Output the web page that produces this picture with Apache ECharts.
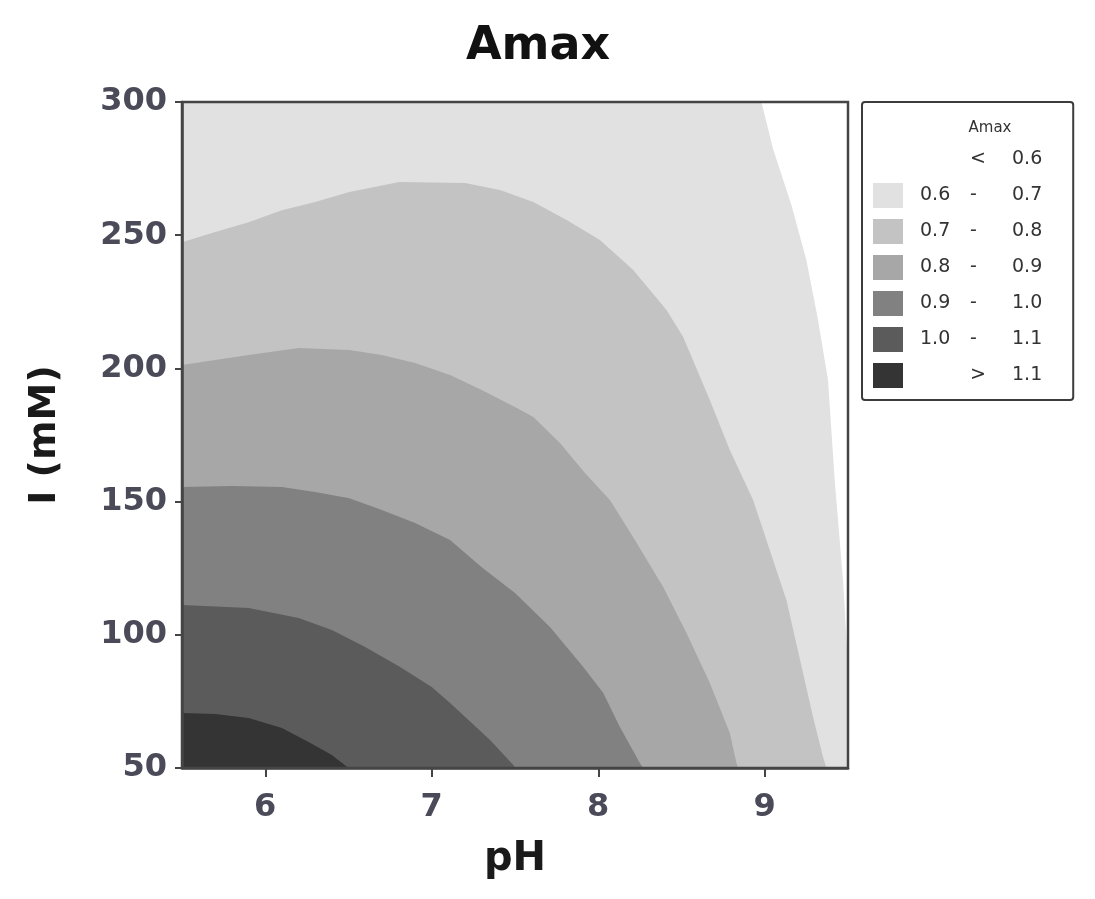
<!DOCTYPE html>
<html>
<head>
<meta charset="utf-8">
<script src="https://cdn.jsdelivr.net/npm/echarts@6/dist/echarts.min.js"></script>
<style>
html,body{margin:0;padding:0;background:#fff;}
#chart{width:1095px;height:899px;}
</style>
</head>
<body>
<div id="chart"></div>
<script>
// Amax contour plot, pH vs I (mM)

var PH_MIN = 5.5, PH_MAX = 9.5;
var I_MIN = 50, I_MAX = 300;
var PH_TICKS = [6, 7, 8, 9];

// legend bands
var BAND_LOW  = [' ', '0.6', '0.7', '0.8', '0.9', '1.0', ' '];
var BAND_SIGN = ['<', '-', '-', '-', '-', '-', '>'];
var BAND_HIGH = ['0.6', '0.7', '0.8', '0.9', '1.0', '1.1', '1.1'];
var BAND_COLORS = ['#ffffff', '#e1e1e1', '#c3c3c3', '#a7a7a7', '#818181', '#5b5b5b', '#343434'];

// contour lines, [pH, I]
var C06 = [[8.98,300],[9.05,282.4],[9.16,261.3],[9.25,240.7],[9.32,218.2],[9.38,195.6],[9.42,158.1],[9.47,120.6],[9.5,88]];
var C07 = [[5.5,247.4],[5.7,251.2],[5.9,254.9],[6.1,259.4],[6.3,262.5],[6.505,266.2],[6.806,270],[7.2,269.6],[7.41,267],
           [7.61,262.5],[7.81,255.7],[8.01,248.2],[8.21,236.9],[8.41,221.9],[8.51,211.8],[8.67,188.1],[8.79,169.4],
           [8.93,150.6],[9.03,131.8],[9.13,113.1],[9.23,85.7],[9.29,69.1],[9.35,54.1],[9.37,50]];
var C08 = [[5.5,201.3],[5.7,203.2],[5.9,205],[6.2,207.7],[6.505,206.9],[6.7,205],[6.9,202],[7.11,197.5],[7.3,191.9],
           [7.5,185.5],[7.61,181.8],[7.77,172],[7.92,160.7],[8.07,150.6],[8.22,135.6],[8.39,117.9],[8.53,100.7],
           [8.67,81.9],[8.79,63.1],[8.83,51.9],[8.84,50]];
var C09 = [[5.5,155.5],[5.8,155.9],[6.1,155.5],[6.3,153.6],[6.505,151.3],[6.7,146.8],[6.9,142],[7.11,135.6],[7.3,125.4],
           [7.5,115.7],[7.71,102.9],[7.91,87.9],[8.03,78.2],[8.13,65.4],[8.25,51.9],[8.27,50]];
var C10 = [[5.5,111.2],[5.9,110.1],[6.2,106.3],[6.4,101.8],[6.6,95.4],[6.81,87.9],[7.0,80.4],[7.11,74.4],[7.24,66.9],
           [7.35,60.5],[7.49,51.1],[7.5,50]];
var C11 = [[5.5,70.6],[5.7,70.3],[5.9,68.8],[6.1,65],[6.26,59.8],[6.4,54.9],[6.5,50]];

var BAND_NAMES = BAND_LOW.map(function(l, i){ return (l.trim() ? l + ' ' : '') + BAND_SIGN[i] + ' ' + BAND_HIGH[i]; });

// each band painted as the region left/below its lower contour
var POLYS = [
  [[PH_MIN,I_MIN],[PH_MAX,I_MIN],[PH_MAX,I_MAX],[PH_MIN,I_MAX]],
  C06.concat([[PH_MAX,I_MIN],[PH_MIN,I_MIN],[PH_MIN,I_MAX]]),
  C07.concat([[PH_MIN,I_MIN]]),
  C08.concat([[PH_MIN,I_MIN]]),
  C09.concat([[PH_MIN,I_MIN]]),
  C10.concat([[PH_MIN,I_MIN]]),
  C11.concat([[PH_MIN,I_MIN]])
];

function bandSeries(i){
  var poly = POLYS[i];
  return {
    type:'custom', name:BAND_NAMES[i], coordinateSystem:'cartesian2d',
    clip:true, silent:true,
    itemStyle:{color:BAND_COLORS[i]},
    data:[poly[0]],
    renderItem:function(params, api){
      return {
        type:'polygon',
        shape:{points:poly.map(function(p){ return api.coord(p); })},
        style:{fill:BAND_COLORS[i]}
      };
    }
  };
}

var FONT = 'DejaVu Sans';
var tok = {fontFamily:FONT, fontSize:19, color:'#333'};

var chart = echarts.init(document.getElementById('chart'));
chart.setOption({
  backgroundColor:'#fff',
  animation:false,
  title:[
    {text:'Amax', left:533, top:19, textAlign:'center',
      textStyle:{fontFamily:FONT, fontWeight:'bold', fontSize:46, color:'#111'}},
    {text:'Amax', left:985, top:116, textAlign:'center',
      textStyle:{fontFamily:FONT, fontWeight:'normal', fontSize:15, color:'#333'}}
  ],
  grid:{left:182, right:247, top:102, bottom:131, show:true, borderColor:'#454545', borderWidth:2.5, z:5},
  legend:{
    orient:'vertical', left:862, top:102, padding:[45,31,12,11],
    itemWidth:30, itemHeight:25, itemGap:11, icon:'rect',
    borderColor:'#3c3c3c', borderWidth:2, borderRadius:3,
    selectedMode:false, data:BAND_NAMES,
    formatter:function(name){
      var i = BAND_NAMES.indexOf(name);
      return '{s| }{l|' + BAND_LOW[i] + '}{m|' + BAND_SIGN[i] + '}{h|' + BAND_HIGH[i] + '}';
    },
    textStyle:{fontFamily:FONT, fontSize:19, color:'#333',
      rich:{
        s:Object.assign({width:12}, tok),
        l:Object.assign({width:50}, tok),
        m:Object.assign({width:42}, tok),
        h:Object.assign({width:38}, tok)
      }}
  },
  xAxis:{
    type:'value', min:PH_MIN, max:PH_MAX, z:10,
    name:'pH', nameLocation:'middle', nameGap:72,
    nameTextStyle:{fontFamily:FONT, fontWeight:'bold', fontSize:40, color:'#1a1a1a'},
    axisLine:{show:true, lineStyle:{color:'#454545', width:2.5}},
    axisTick:{show:true, customValues:PH_TICKS, length:9, lineStyle:{color:'#454545', width:2}},
    axisLabel:{customValues:PH_TICKS, margin:24, fontFamily:FONT, fontWeight:'bold', fontSize:32, color:'#4b4a58'},
    splitLine:{show:false}
  },
  yAxis:{
    type:'value', min:I_MIN, max:I_MAX, interval:50, z:10,
    name:'I (mM)', nameLocation:'middle', nameGap:118,
    nameTextStyle:{fontFamily:FONT, fontWeight:'bold', fontSize:38, color:'#1a1a1a'},
    axisLine:{show:true, lineStyle:{color:'#454545', width:2.5}},
    axisTick:{show:true, length:7, lineStyle:{color:'#454545', width:2}},
    axisLabel:{margin:15, fontFamily:FONT, fontWeight:'bold', fontSize:32, color:'#4b4a58'},
    splitLine:{show:false}
  },
  series:POLYS.map(function(p, i){ return bandSeries(i); })
});
</script>
</body>
</html>
